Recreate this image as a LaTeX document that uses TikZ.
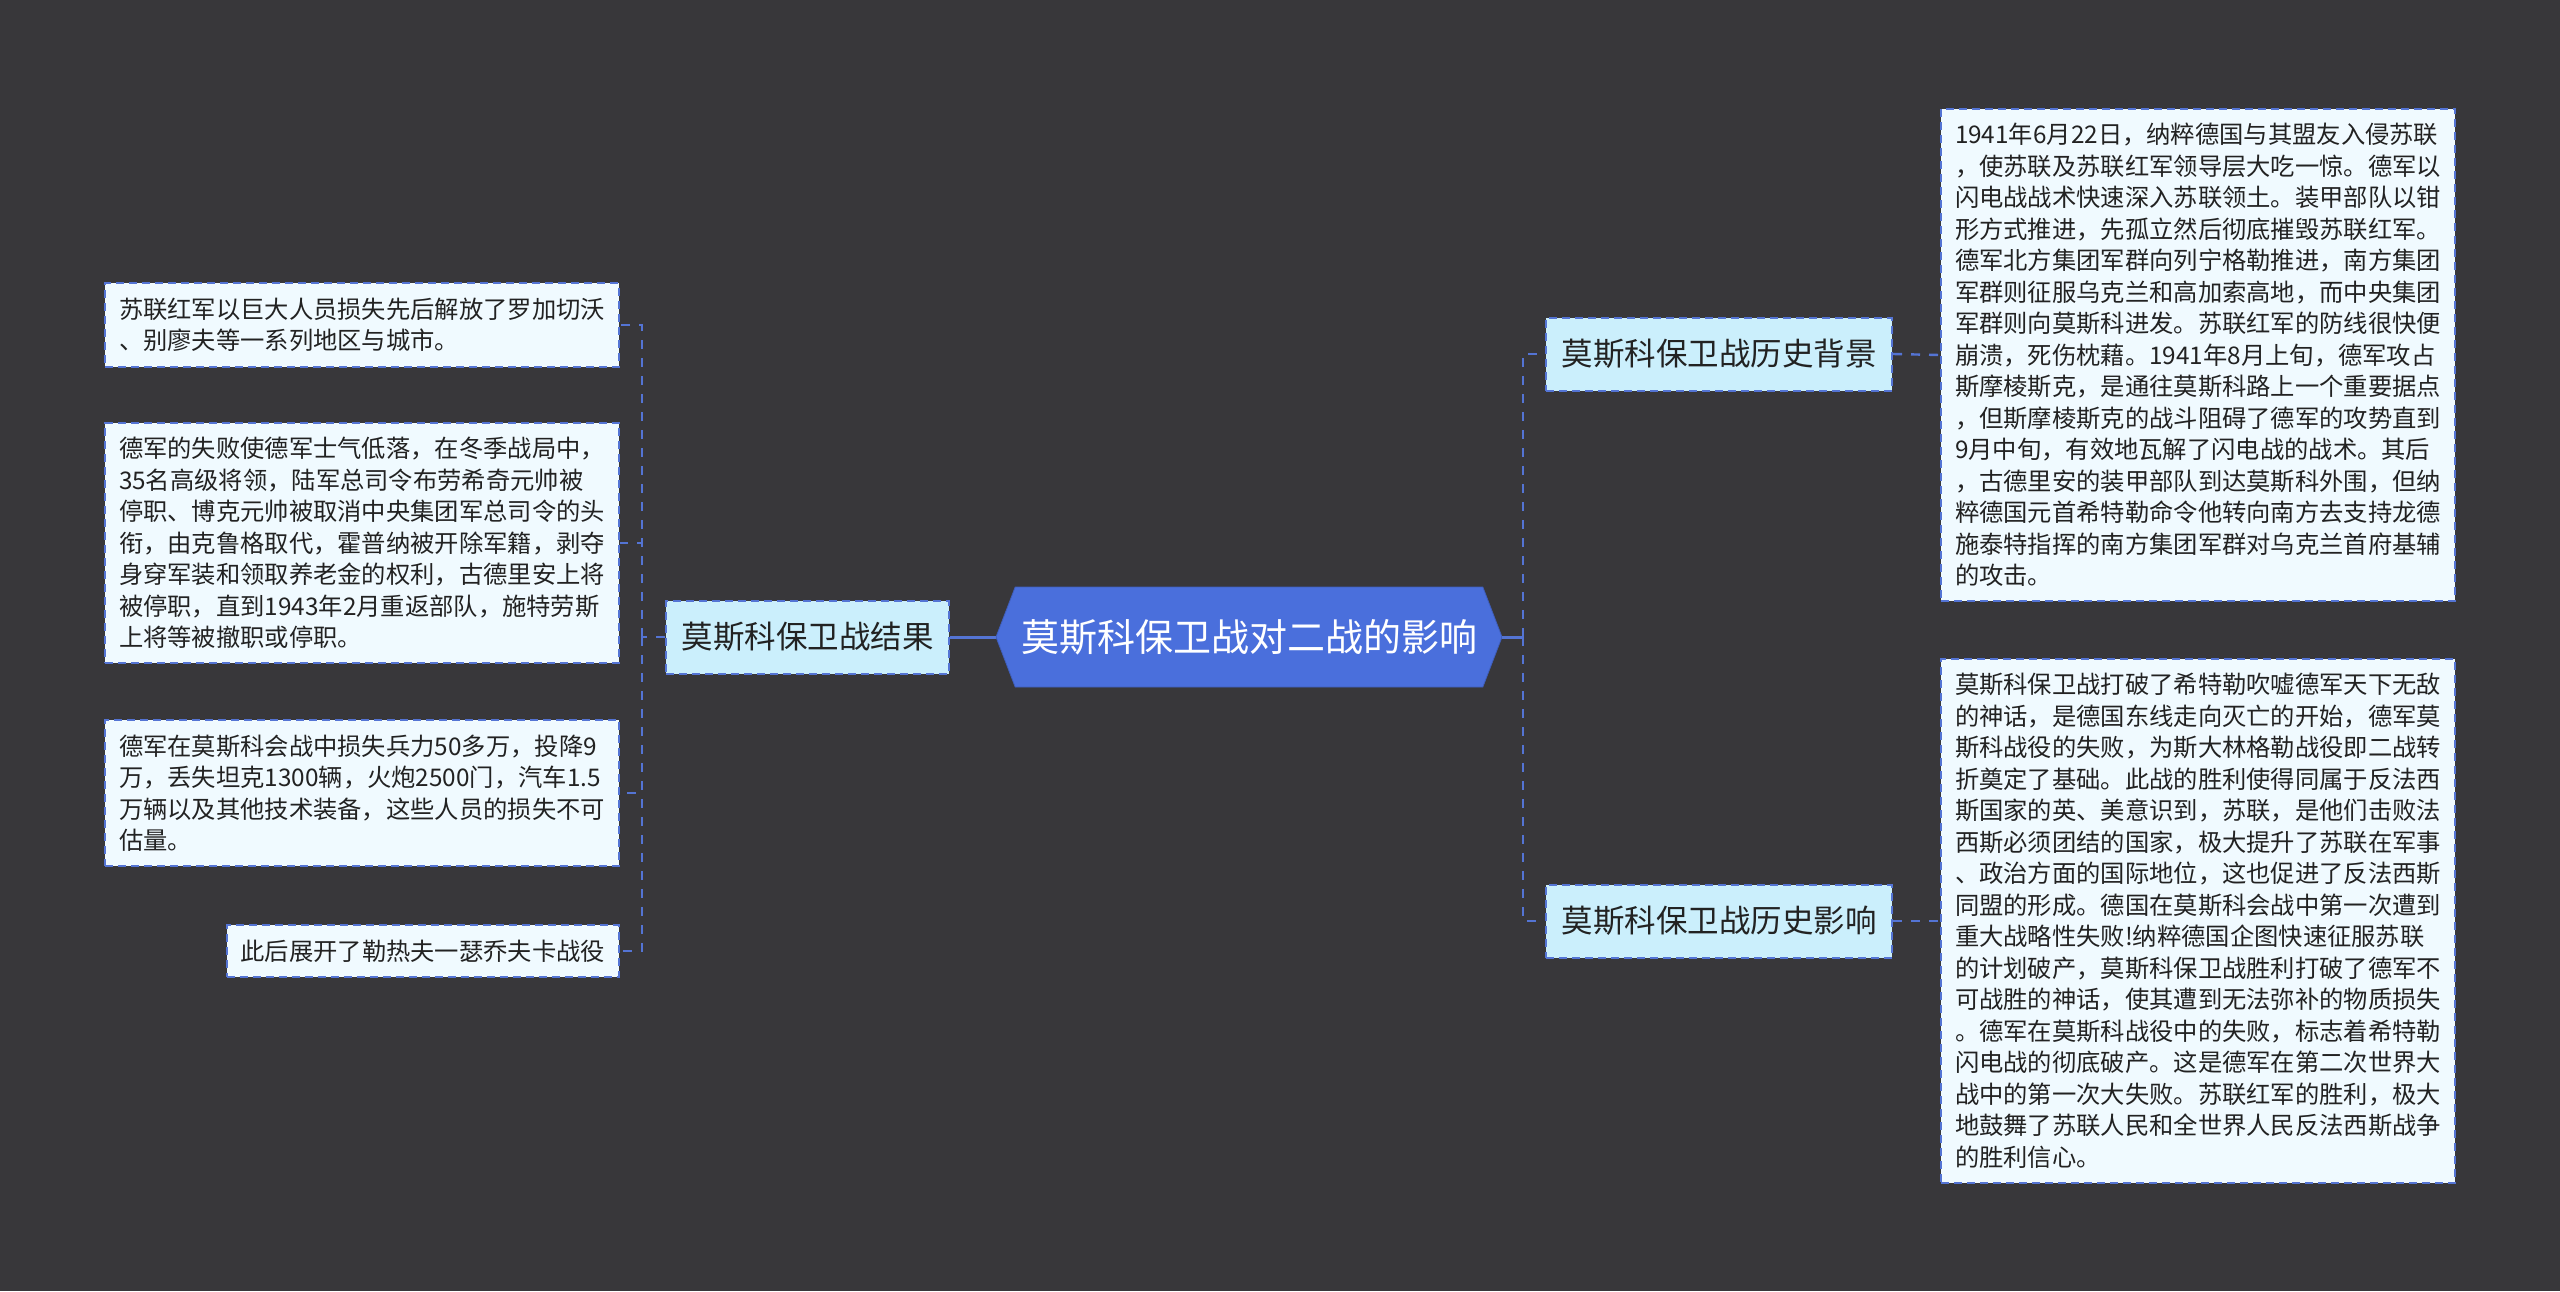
\documentclass[tikz,border=0pt]{standalone}
\usepackage{fontspec}
\setmainfont{Noto Sans CJK SC}
\usetikzlibrary{calc,shapes.symbols}

\definecolor{bgdark}{HTML}{38373A}
\definecolor{rootblue}{HTML}{4A6FDC}
\definecolor{linkblue}{HTML}{5474D4}
\definecolor{subfill}{HTML}{CBEFFC}
\definecolor{leaffill}{HTML}{F0FAFF}
\definecolor{inkdark}{HTML}{222222}

\begin{document}
\begin{tikzpicture}[x=0.5pt,y=-0.5pt]

  \tikzstyle{leaf}=[draw=linkblue,fill=leaffill,line width=1pt,dash pattern=on 4pt off 2.5pt,text=inkdark,font=\fontsize{12.15pt}{15.75pt}\selectfont,align=left,inner xsep=7pt,inner ysep=7.25pt]
  \tikzstyle{leafwide}=[leaf,text width=243pt]
  \tikzstyle{branch}=[draw=linkblue,fill=subfill,line width=1pt,dash pattern=on 4pt off 2.5pt,text=inkdark,font=\fontsize{15.75pt}{18pt}\selectfont,inner xsep=7.75pt,inner ysep=0pt,minimum height=36.5pt]
  \tikzstyle{root}=[signal,signal to=east and west,signal pointer angle=138,fill=rootblue,draw=rootblue!85!black,text=white,font=\fontsize{19pt}{22pt}\selectfont,minimum width=253pt,minimum height=50pt,inner sep=0pt]
  \tikzstyle{link}=[draw=linkblue,line width=1.2pt,dash pattern=on 4.5pt off 4.5pt]
  \tikzstyle{stem}=[draw=linkblue,line width=1.5pt]

  % ====================
  % Parameters
  % ====================
  \def\leftx{620}   % right edge of the left boxes
  \def\rightx{1940} % left edge of the right boxes
  \def\midy{637}    % height of the main row
  % ====================

  % Background
  \fill[bgdark] (0,0) rectangle (2560,1291);
  \useasboundingbox (0,0) rectangle (2560,1291);

  % ====================
  % Centre
  % ====================
  \node (root) [root] at (1249,\midy) {莫斯科保卫战对二战的影响};

  % ====================
  % Left side
  % ====================
  \node (result) [branch] at (807.5,\midy) {莫斯科保卫战结果};
  \coordinate (lj) at (642,\midy);

  \node (res1) [leafwide,anchor=east] at (\leftx,325) {苏联红军以巨大人员损失先后解放了罗加切沃\\、别廖夫等一系列地区与城市。};
  \node (res2) [leafwide,anchor=east] at (\leftx,543) {德军的失败使德军士气低落，在冬季战局中，\\35名高级将领，陆军总司令布劳希奇元帅被\\停职、博克元帅被取消中央集团军总司令的头\\衔，由克鲁格取代，霍普纳被开除军籍，剥夺\\身穿军装和领取养老金的权利，古德里安上将\\被停职，直到1943年2月重返部队，施特劳斯\\上将等被撤职或停职。};
  \node (res3) [leafwide,anchor=east] at (\leftx,793) {德军在莫斯科会战中损失兵力50多万，投降9\\万，丢失坦克1300辆，火炮2500门，汽车1.5\\万辆以及其他技术装备，这些人员的损失不可\\估量。};
  \node (res4) [leaf,anchor=east] at (\leftx,951) {此后展开了勒热夫一瑟乔夫卡战役};

  \draw[stem] (root.west) -- (result.east);
  \draw[link] (result.west) -- (lj);
  \foreach \n in {res1,res2,res3,res4}
    \draw[link] (lj) |- (\n.east);

  % ====================
  % Right side
  % ====================
  \node (backgr) [branch] at (1719,354) {莫斯科保卫战历史背景};
  \node (impact) [branch] at (1719,921) {莫斯科保卫战历史影响};
  \coordinate (rj) at (1523,\midy);

  \node (bgtext) [leafwide,anchor=west] at (\rightx,355) {1941年6月22日，纳粹德国与其盟友入侵苏联\\，使苏联及苏联红军领导层大吃一惊。德军以\\闪电战战术快速深入苏联领土。装甲部队以钳\\形方式推进，先孤立然后彻底摧毁苏联红军。\\德军北方集团军群向列宁格勒推进，南方集团\\军群则征服乌克兰和高加索高地，而中央集团\\军群则向莫斯科进发。苏联红军的防线很快便\\崩溃，死伤枕藉。1941年8月上旬，德军攻占\\斯摩棱斯克，是通往莫斯科路上一个重要据点\\，但斯摩棱斯克的战斗阻碍了德军的攻势直到\\9月中旬，有效地瓦解了闪电战的战术。其后\\，古德里安的装甲部队到达莫斯科外围，但纳\\粹德国元首希特勒命令他转向南方去支持龙德\\施泰特指挥的南方集团军群对乌克兰首府基辅\\的攻击。};
  \node (imtext) [leafwide,anchor=west] at (\rightx,921) {莫斯科保卫战打破了希特勒吹嘘德军天下无敌\\的神话，是德国东线走向灭亡的开始，德军莫\\斯科战役的失败，为斯大林格勒战役即二战转\\折奠定了基础。此战的胜利使得同属于反法西\\斯国家的英、美意识到，苏联，是他们击败法\\西斯必须团结的国家，极大提升了苏联在军事\\、政治方面的国际地位，这也促进了反法西斯\\同盟的形成。德国在莫斯科会战中第一次遭到\\重大战略性失败!纳粹德国企图快速征服苏联\\的计划破产，莫斯科保卫战胜利打破了德军不\\可战胜的神话，使其遭到无法弥补的物质损失\\。德军在莫斯科战役中的失败，标志着希特勒\\闪电战的彻底破产。这是德军在第二次世界大\\战中的第一次大失败。苏联红军的胜利，极大\\地鼓舞了苏联人民和全世界人民反法西斯战争\\的胜利信心。};

  \draw[stem] (root.east) -- (rj);
  \draw[link] (rj) |- (backgr.west);
  \draw[link] (rj) |- (impact.west);
  \draw[link] (backgr.east) -- (bgtext.west);
  \draw[link] (impact.east) -- (imtext.west);
\end{tikzpicture}
\end{document}
